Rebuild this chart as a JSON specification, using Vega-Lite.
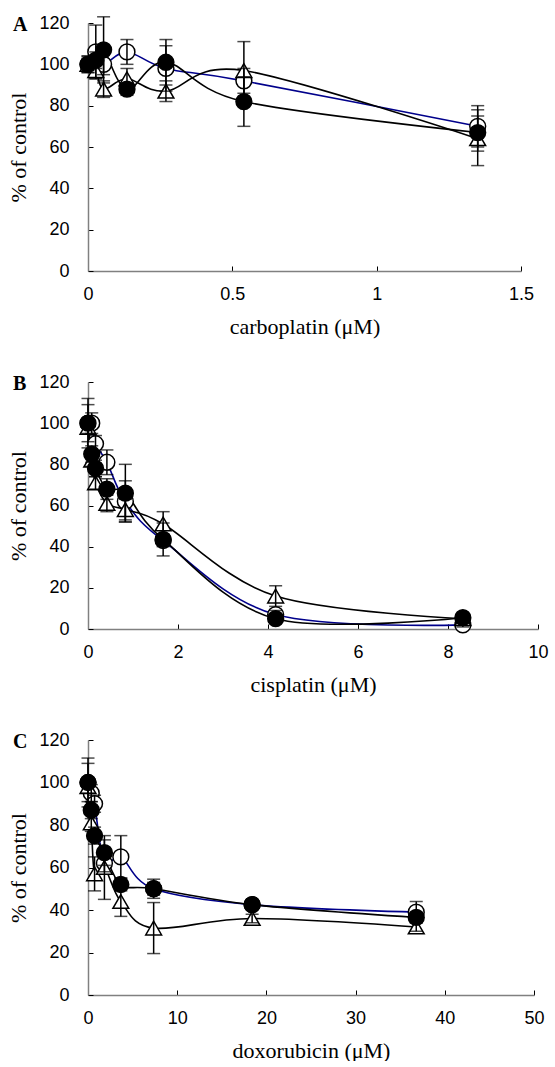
{
  "$schema": "https://vega.github.io/schema/vega-lite/v6.json",
  "padding": {"left": 7, "top": 14, "right": 5, "bottom": 0},
  "background": "white",
  "spacing": 36,
  "config": {
    "view": {"stroke": null},
    "axis": {"grid": false, "domainColor": "#808080", "domainWidth": 1.5, "tickColor": "#000000", "tickSize": -5, "tickWidth": 1,
      "labelFont": "Liberation Sans", "labelFontSize": 18, "labelColor": "#000000",
      "titleFont": "Liberation Serif", "titleFontSize": 22, "titleFontWeight": "normal", "titleColor": "#000000"},
    "axisY": {"labelPadding": 24, "titlePadding": 8},
    "axisX": {"labelPadding": 19, "titlePadding": 13, "labelFlush": false, "labelExpr": "'' + datum.value"},
    "title": {"anchor": "start", "frame": "group", "font": "Liberation Serif", "fontSize": 20, "fontWeight": "bold", "color": "#000000", "offset": 0, "baseline": "middle", "dx": -75, "dy": 25}
  },
  "datasets": {
    "A": [
      {"s": "open", "c": 0, "v": 100, "lo": 97, "hi": 103},
      {"s": "open", "c": 0.027, "v": 106, "lo": 93, "hi": 119},
      {"s": "open", "c": 0.054, "v": 100, "lo": 95, "hi": 105},
      {"s": "open", "c": 0.135, "v": 106, "lo": 100, "hi": 112},
      {"s": "open", "c": 0.27, "v": 98, "lo": 87, "hi": 109},
      {"s": "open", "c": 0.54, "v": 92, "lo": 86, "hi": 98},
      {"s": "open", "c": 1.35, "v": 70, "lo": 60, "hi": 80},
      {"s": "tri", "c": 0, "v": 100, "lo": 96, "hi": 104},
      {"s": "tri", "c": 0.027, "v": 97, "lo": 93, "hi": 101},
      {"s": "tri", "c": 0.054, "v": 88, "lo": 84, "hi": 92},
      {"s": "tri", "c": 0.135, "v": 93, "lo": 88, "hi": 98},
      {"s": "tri", "c": 0.27, "v": 87, "lo": 82, "hi": 92},
      {"s": "tri", "c": 0.54, "v": 97, "lo": 83, "hi": 111},
      {"s": "tri", "c": 1.35, "v": 64, "lo": 58, "hi": 75},
      {"s": "filled", "c": 0, "v": 100, "lo": 96, "hi": 104},
      {"s": "filled", "c": 0.027, "v": 102, "lo": 98, "hi": 106},
      {"s": "filled", "c": 0.054, "v": 107, "lo": 91, "hi": 123},
      {"s": "filled", "c": 0.135, "v": 88, "lo": 85, "hi": 91},
      {"s": "filled", "c": 0.27, "v": 101, "lo": 90, "hi": 112},
      {"s": "filled", "c": 0.54, "v": 82, "lo": 70, "hi": 94},
      {"s": "filled", "c": 1.35, "v": 67, "lo": 51, "hi": 78}
    ],
    "B": [
      {"s": "open", "c": 0, "v": 100, "lo": 91, "hi": 109},
      {"s": "open", "c": 0.083, "v": 100, "lo": 95, "hi": 105},
      {"s": "open", "c": 0.167, "v": 90, "lo": 86, "hi": 94},
      {"s": "open", "c": 0.42, "v": 81, "lo": 75, "hi": 87},
      {"s": "open", "c": 0.83, "v": 62, "lo": 52, "hi": 72},
      {"s": "open", "c": 1.67, "v": 43, "lo": 40, "hi": 46},
      {"s": "open", "c": 4.17, "v": 7, "lo": 5, "hi": 9},
      {"s": "open", "c": 8.33, "v": 2, "lo": 1, "hi": 3.5},
      {"s": "tri", "c": 0, "v": 98, "lo": 95, "hi": 101},
      {"s": "tri", "c": 0.083, "v": 82, "lo": 79, "hi": 85},
      {"s": "tri", "c": 0.167, "v": 71, "lo": 68, "hi": 74},
      {"s": "tri", "c": 0.42, "v": 61, "lo": 57, "hi": 65},
      {"s": "tri", "c": 0.83, "v": 58, "lo": 53, "hi": 63},
      {"s": "tri", "c": 1.67, "v": 51, "lo": 45, "hi": 57},
      {"s": "tri", "c": 4.17, "v": 16, "lo": 11, "hi": 21},
      {"s": "tri", "c": 8.33, "v": 5, "lo": 3.5, "hi": 6.5},
      {"s": "filled", "c": 0, "v": 100, "lo": 88, "hi": 112},
      {"s": "filled", "c": 0.083, "v": 85, "lo": 81, "hi": 89},
      {"s": "filled", "c": 0.167, "v": 78, "lo": 74, "hi": 82},
      {"s": "filled", "c": 0.42, "v": 68, "lo": 63, "hi": 73},
      {"s": "filled", "c": 0.83, "v": 66, "lo": 52, "hi": 80},
      {"s": "filled", "c": 1.67, "v": 43.5, "lo": 35.5, "hi": 51.5},
      {"s": "filled", "c": 4.17, "v": 5, "lo": 3, "hi": 7},
      {"s": "filled", "c": 8.33, "v": 5.5, "lo": 4, "hi": 7}
    ],
    "C": [
      {"s": "open", "c": 0, "v": 100, "lo": 91, "hi": 109},
      {"s": "open", "c": 0.368, "v": 95, "lo": 91, "hi": 99},
      {"s": "open", "c": 0.736, "v": 90, "lo": 86, "hi": 94},
      {"s": "open", "c": 1.84, "v": 62, "lo": 58, "hi": 66},
      {"s": "open", "c": 3.68, "v": 65, "lo": 55, "hi": 75},
      {"s": "open", "c": 7.36, "v": 50, "lo": 47, "hi": 53},
      {"s": "open", "c": 18.4, "v": 42.5, "lo": 40.5, "hi": 44.5},
      {"s": "open", "c": 36.8, "v": 39, "lo": 34, "hi": 44},
      {"s": "tri", "c": 0, "v": 98, "lo": 95, "hi": 101},
      {"s": "tri", "c": 0.368, "v": 81, "lo": 77, "hi": 85},
      {"s": "tri", "c": 0.736, "v": 57, "lo": 49, "hi": 65},
      {"s": "tri", "c": 1.84, "v": 60, "lo": 45, "hi": 75},
      {"s": "tri", "c": 3.68, "v": 44, "lo": 37, "hi": 51},
      {"s": "tri", "c": 7.36, "v": 31.5, "lo": 19.5, "hi": 43.5},
      {"s": "tri", "c": 18.4, "v": 36, "lo": 34, "hi": 38},
      {"s": "tri", "c": 36.8, "v": 32, "lo": 30, "hi": 34},
      {"s": "filled", "c": 0, "v": 100, "lo": 88.5, "hi": 111.5},
      {"s": "filled", "c": 0.368, "v": 87, "lo": 83, "hi": 91},
      {"s": "filled", "c": 0.736, "v": 75, "lo": 71, "hi": 79},
      {"s": "filled", "c": 1.84, "v": 67, "lo": 61, "hi": 73},
      {"s": "filled", "c": 3.68, "v": 52, "lo": 49, "hi": 55},
      {"s": "filled", "c": 7.36, "v": 50, "lo": 45.5, "hi": 54.5},
      {"s": "filled", "c": 18.4, "v": 42.5, "lo": 40.5, "hi": 44.5},
      {"s": "filled", "c": 36.8, "v": 36.5, "lo": 34.5, "hi": 38.5}
    ]
  },
  "vconcat": [
    {
      "title": "A",
      "width": 433, "height": 248,
      "data": {"name": "A"},
      "encoding": {
        "x": {"field": "c", "type": "quantitative", "scale": {"domain": [0, 1.5], "nice": false}, "axis": {"values": [0, 0.5, 1, 1.5], "title": "carboplatin (μM)"}},
        "y": {"field": "v", "type": "quantitative", "scale": {"domain": [0, 120], "nice": false}, "axis": {"values": [0, 20, 40, 60, 80, 100, 120], "title": "% of control"}}
      },
      "layer": [
        {"mark": {"type": "line", "interpolate": "cardinal", "strokeWidth": 1.6},
         "encoding": {"color": {"field": "s", "type": "nominal", "scale": {"domain": ["open", "tri", "filled"], "range": ["#00008B", "#000000", "#000000"]}, "legend": null}}},
        {"mark": {"type": "point", "filled": true, "size": 250, "stroke": "#000000", "strokeWidth": 1.5, "opacity": 1},
         "encoding": {
           "shape": {"field": "s", "type": "nominal", "scale": {"domain": ["open", "tri", "filled"], "range": ["circle", "triangle-up", "circle"]}, "legend": null},
           "fill": {"field": "s", "type": "nominal", "scale": {"domain": ["open", "tri", "filled"], "range": ["#ffffff", "#ffffff", "#000000"]}, "legend": null}}},
        {"mark": {"type": "rule", "color": "#000000", "strokeWidth": 1.5},
         "encoding": {"y": {"field": "lo", "type": "quantitative"}, "y2": {"field": "hi"}}},
        {"mark": {"type": "tick", "orient": "horizontal", "color": "#000000", "size": 13, "thickness": 1.5},
         "encoding": {"y": {"field": "lo", "type": "quantitative"}}},
        {"mark": {"type": "tick", "orient": "horizontal", "color": "#000000", "size": 13, "thickness": 1.5},
         "encoding": {"y": {"field": "hi", "type": "quantitative"}}}
      ]
    },
    {
      "title": "B",
      "width": 450, "height": 247,
      "data": {"name": "B"},
      "encoding": {
        "x": {"field": "c", "type": "quantitative", "scale": {"domain": [0, 10], "nice": false}, "axis": {"values": [0, 2, 4, 6, 8, 10], "title": "cisplatin (μM)"}},
        "y": {"field": "v", "type": "quantitative", "scale": {"domain": [0, 120], "nice": false}, "axis": {"values": [0, 20, 40, 60, 80, 100, 120], "title": "% of control"}}
      },
      "layer": [
        {"mark": {"type": "line", "interpolate": "cardinal", "strokeWidth": 1.6},
         "encoding": {"color": {"field": "s", "type": "nominal", "scale": {"domain": ["open", "tri", "filled"], "range": ["#00008B", "#000000", "#000000"]}, "legend": null}}},
        {"mark": {"type": "point", "filled": true, "size": 250, "stroke": "#000000", "strokeWidth": 1.5, "opacity": 1},
         "encoding": {
           "shape": {"field": "s", "type": "nominal", "scale": {"domain": ["open", "tri", "filled"], "range": ["circle", "triangle-up", "circle"]}, "legend": null},
           "fill": {"field": "s", "type": "nominal", "scale": {"domain": ["open", "tri", "filled"], "range": ["#ffffff", "#ffffff", "#000000"]}, "legend": null}}},
        {"mark": {"type": "rule", "color": "#000000", "strokeWidth": 1.5},
         "encoding": {"y": {"field": "lo", "type": "quantitative"}, "y2": {"field": "hi"}}},
        {"mark": {"type": "tick", "orient": "horizontal", "color": "#000000", "size": 13, "thickness": 1.5},
         "encoding": {"y": {"field": "lo", "type": "quantitative"}}},
        {"mark": {"type": "tick", "orient": "horizontal", "color": "#000000", "size": 13, "thickness": 1.5},
         "encoding": {"y": {"field": "hi", "type": "quantitative"}}}
      ]
    },
    {
      "title": "C",
      "width": 446, "height": 255,
      "data": {"name": "C"},
      "encoding": {
        "x": {"field": "c", "type": "quantitative", "scale": {"domain": [0, 50], "nice": false}, "axis": {"values": [0, 10, 20, 30, 40, 50], "title": "doxorubicin (μM)"}},
        "y": {"field": "v", "type": "quantitative", "scale": {"domain": [0, 120], "nice": false}, "axis": {"values": [0, 20, 40, 60, 80, 100, 120], "title": "% of control"}}
      },
      "layer": [
        {"mark": {"type": "line", "interpolate": "cardinal", "strokeWidth": 1.6},
         "encoding": {"color": {"field": "s", "type": "nominal", "scale": {"domain": ["open", "tri", "filled"], "range": ["#00008B", "#000000", "#000000"]}, "legend": null}}},
        {"mark": {"type": "point", "filled": true, "size": 250, "stroke": "#000000", "strokeWidth": 1.5, "opacity": 1},
         "encoding": {
           "shape": {"field": "s", "type": "nominal", "scale": {"domain": ["open", "tri", "filled"], "range": ["circle", "triangle-up", "circle"]}, "legend": null},
           "fill": {"field": "s", "type": "nominal", "scale": {"domain": ["open", "tri", "filled"], "range": ["#ffffff", "#ffffff", "#000000"]}, "legend": null}}},
        {"mark": {"type": "rule", "color": "#000000", "strokeWidth": 1.5},
         "encoding": {"y": {"field": "lo", "type": "quantitative"}, "y2": {"field": "hi"}}},
        {"mark": {"type": "tick", "orient": "horizontal", "color": "#000000", "size": 13, "thickness": 1.5},
         "encoding": {"y": {"field": "lo", "type": "quantitative"}}},
        {"mark": {"type": "tick", "orient": "horizontal", "color": "#000000", "size": 13, "thickness": 1.5},
         "encoding": {"y": {"field": "hi", "type": "quantitative"}}}
      ]
    }
  ]
}
